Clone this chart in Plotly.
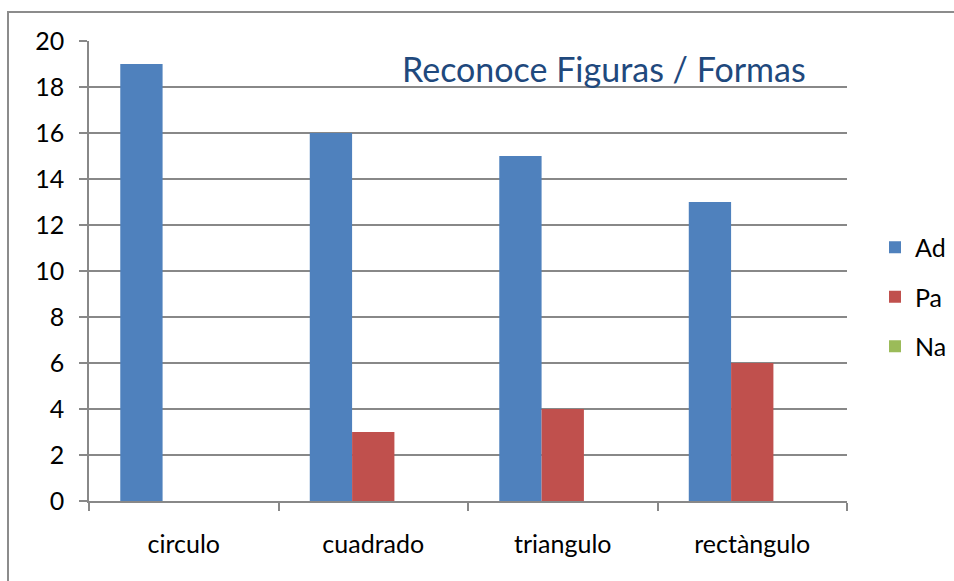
import plotly.graph_objects as go

categories = ["circulo", "cuadrado", "triangulo", "rectàngulo"]
ad_values = [19, 16, 15, 13]
pa_values = [0, 3, 4, 6]
na_values = [0, 0, 0, 0]

series = [
    ("Ad", ad_values, "#4F81BD"),
    ("Pa", pa_values, "#C0504D"),
    ("Na", na_values, "#9BBB59"),
]

FONT = "Lato, Open Sans, sans-serif"
GRID = "#888888"
BORDER = "#8c8c8c"

fig = go.Figure()
for name, values, color in series:
    fig.add_trace(
        go.Bar(
            x=categories, y=values, name=name, legendgroup=name,
            marker={"color": color, "line": {"width": 0}},
        )
    )

# outer chart frame (left and top edges only), in paper units of the 758x460 plot area
fx0, fy0 = -81 / 758, -80 / 460
fx1, fy1 = 865 / 758, 489 / 460
frame_path = f"M {fx0} {fy0} L {fx0} {fy1} L {fx1} {fy1}"

# plot area: 89..847 x 41..501 px
fig.update_layout(
    width=954, height=581, autosize=False,
    margin={"l": 89, "r": 107, "t": 41, "b": 80},
    paper_bgcolor="white", plot_bgcolor="white",
    font={"family": FONT, "size": 25, "color": "#000000"},
    barmode="group", bargap=0.33, bargroupgap=0,
    showlegend=True,
    legend={
        "xref": "container", "yref": "container",
        "x": 875 / 954, "y": 1 - 297 / 581, "xanchor": "left", "yanchor": "middle",
        "font": {"size": 25}, "tracegroupgap": 14, "itemwidth": 30,
    },
    annotations=[
        {
            "text": "Reconoce Figuras / Formas", "xref": "paper", "yref": "paper",
            "x": 0.679, "y": 0.941, "xanchor": "center", "yanchor": "middle",
            "showarrow": False, "font": {"size": 34, "color": "#1F497D", "family": FONT},
        }
    ],
    shapes=[
        {
            "type": "path", "xref": "paper", "yref": "paper", "path": frame_path,
            "line": {"color": BORDER, "width": 2}, "fillcolor": "rgba(0,0,0,0)",
        },
    ],
)

fig.update_xaxes(
    showline=True, linecolor=GRID, linewidth=1.5,
    ticks="outside", tickson="boundaries", ticklen=8, tickcolor=GRID, tickwidth=1.5,
    showgrid=False, ticklabelstandoff=20,
)
fig.update_yaxes(
    range=[0, 20], dtick=2, showline=True, linecolor=GRID, linewidth=1.5,
    ticks="outside", ticklen=8, tickcolor=GRID, tickwidth=1.5,
    showgrid=True, gridcolor=GRID, gridwidth=1.5, zeroline=False,
    ticklabelstandoff=10,
)

fig.write_html(
    "out.html",
    config={"displayModeBar": False},
    post_script="document.body.style.margin='0';document.body.style.overflow='hidden';",
)
